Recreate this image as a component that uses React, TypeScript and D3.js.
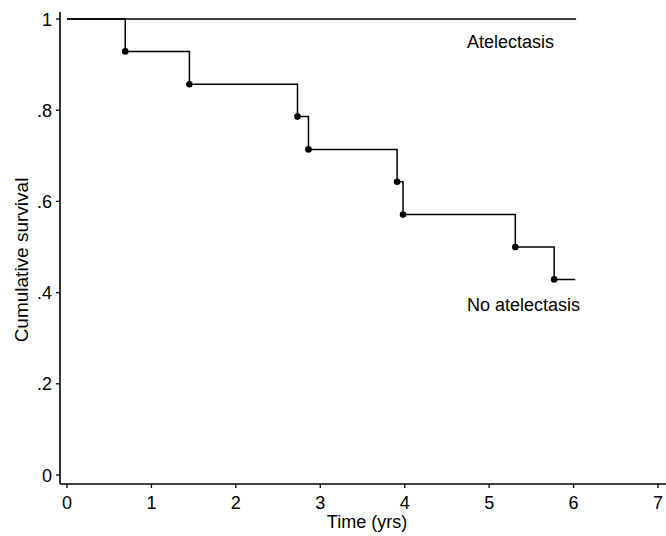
import React from 'react';
import * as d3 from 'd3';

// chart size
const svgWidth = 666;
const svgHeight = 536;
const fontFamily = '"Liberation Sans", Arial, sans-serif';

// data: event times (yrs) and survival after each event, no atelectasis group
const eventTimes = [0.69, 1.45, 2.73, 2.86, 3.91, 3.98, 5.31, 5.77];
const survivalAfter = [0.929, 0.857, 0.786, 0.714, 0.643, 0.571, 0.5, 0.429];
const followUpEnd = 6.02; // last follow-up, no atelectasis
const atelectasisEnd = 6.03; // last follow-up, atelectasis (no events)

const xTicks = [0, 1, 2, 3, 4, 5, 6, 7];
const yTicks = [0, 0.2, 0.4, 0.6, 0.8, 1];
const yTickLabels = ['0', '.2', '.4', '.6', '.8', '1'];

const xScale = d3.scaleLinear().domain([0, 7]).range([67, 658]);
const yScale = d3.scaleLinear().domain([0, 1]).range([475, 19]);

const axisLeft = 60;
const axisBottom = 484;

export default function App() {
  // build step path for the no-atelectasis curve
  const stepPoints: [number, number][] = [[0, 1]];
  eventTimes.forEach((t, i) => {
    stepPoints.push([t, survivalAfter[i]]);
  });
  stepPoints.push([followUpEnd, survivalAfter[survivalAfter.length - 1]]);

  const stepLine = d3
    .line<[number, number]>()
    .x((d) => xScale(d[0]))
    .y((d) => yScale(d[1]))
    .curve(d3.curveStepAfter);

  const flatLine = d3
    .line<[number, number]>()
    .x((d) => xScale(d[0]))
    .y((d) => yScale(d[1]));

  return (
    <svg
      width={svgWidth}
      height={svgHeight}
      style={{ position: 'absolute', left: 0, top: 0, background: '#fff' }}
      fontFamily={fontFamily}
    >
      {/* y axis */}
      <line x1={axisLeft} x2={axisLeft} y1={12} y2={axisBottom} stroke="#000" strokeWidth={1.6} />
      {yTicks.map((v, i) => (
        <g key={'y' + i}>
          <line x1={axisLeft - 4} x2={axisLeft} y1={yScale(v)} y2={yScale(v)} stroke="#000" strokeWidth={1.3} />
          <text x={52} y={yScale(v) + 6.5} textAnchor="end" fontSize={18} fill="#000">
            {yTickLabels[i]}
          </text>
        </g>
      ))}

      {/* x axis */}
      <line x1={axisLeft} x2={svgWidth} y1={axisBottom} y2={axisBottom} stroke="#000" strokeWidth={1.6} />
      {xTicks.map((v) => (
        <g key={'x' + v}>
          <line x1={xScale(v)} x2={xScale(v)} y1={axisBottom} y2={axisBottom + 4} stroke="#000" strokeWidth={1.3} />
          <text x={xScale(v)} y={509} textAnchor="middle" fontSize={18} fill="#000">
            {v}
          </text>
        </g>
      ))}

      {/* axis titles */}
      <text x={367} y={528} textAnchor="middle" fontSize={18} fill="#000">
        Time (yrs)
      </text>
      <text
        transform={`translate(28, 260) rotate(-90)`}
        textAnchor="middle"
        fontSize={19}
        fill="#000"
      >
        Cumulative survival
      </text>

      {/* atelectasis: no events */}
      <path
        d={flatLine([[0, 1], [atelectasisEnd, 1]]) || ''}
        fill="none"
        stroke="#000"
        strokeWidth={1.5}
      />

      {/* no atelectasis step curve */}
      <path d={stepLine(stepPoints) || ''} fill="none" stroke="#000" strokeWidth={1.5} />
      {eventTimes.map((t, i) => (
        <circle key={'d' + i} cx={xScale(t)} cy={yScale(survivalAfter[i])} r={3.3} fill="#000" />
      ))}

      {/* curve labels */}
      <text x={467} y={48} fontSize={18} fill="#000">
        Atelectasis
      </text>
      <text x={467} y={311} fontSize={18} fill="#000">
        No atelectasis
      </text>
    </svg>
  );
}
